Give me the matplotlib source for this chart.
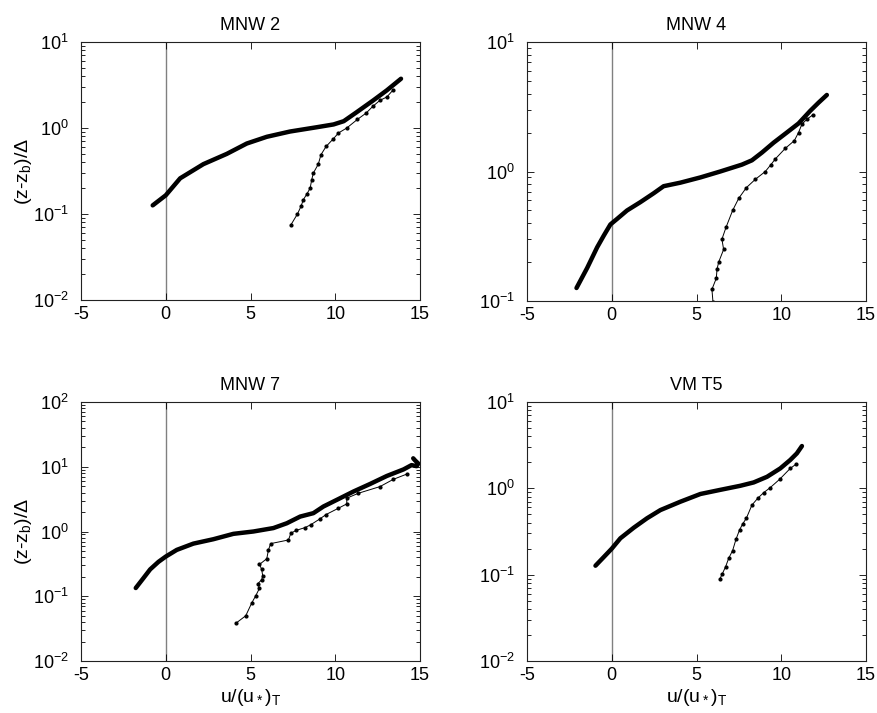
"""Four-panel log profiles of u/(u*)_T against (z-z_b)/Delta."""

import matplotlib
matplotlib.use("Agg")
import matplotlib.pyplot as plt
from matplotlib.ticker import LogLocator, NullFormatter

plt.rcParams["font.family"] = ["Liberation Sans", "DejaVu Sans"]
plt.rcParams["mathtext.default"] = "regular"
plt.rcParams["axes.unicode_minus"] = False

titles = ["MNW 2", "MNW 4", "MNW 7", "VM T5"]
ylims = [(1e-2, 1e1), (1e-1, 1e1), (1e-2, 1e2), (1e-2, 1e1)]

# thick curve (model / dense profile)
thick_u = [
    [-0.77, 0.0, 0.85, 2.22, 3.6, 4.78, 5.96, 7.33, 8.9, 9.9, 10.5, 11.27, 12.25, 13.04, 13.88],
    [-2.08, -1.45, -0.86, -0.47, -0.08, 0.31, 0.9, 1.69, 2.48, 3.06, 4.05, 5.23, 6.4, 7.68,
     8.27, 8.86, 9.55, 10.33, 11.02, 11.71, 12.2, 12.69],
    [-1.77, -1.32, -0.92, -0.43, 0.0, 0.65, 1.63, 2.81, 3.99, 5.17, 6.35, 7.14, 7.93, 8.71,
     9.3, 10.09, 11.07, 12.06, 13.04, 14.03, 14.5, 14.8, 14.9, 14.7, 14.6],
    [-0.96, -0.47, 0.0, 0.51, 1.3, 2.08, 2.87, 4.05, 5.23, 6.4, 7.58, 8.37, 9.16, 9.94,
     10.53, 10.92, 11.22],
]
thick_z = [
    [0.126, 0.165, 0.26, 0.38, 0.50, 0.66, 0.79, 0.91, 1.02, 1.1, 1.2, 1.53, 2.1, 2.74, 3.74],
    [0.126, 0.18, 0.26, 0.32, 0.39, 0.43, 0.50, 0.58, 0.68, 0.77, 0.82, 0.90, 1.0, 1.13,
     1.22, 1.40, 1.67, 2.0, 2.35, 2.94, 3.4, 3.9],
    [0.134, 0.19, 0.26, 0.34, 0.41, 0.52, 0.65, 0.76, 0.92, 1.0, 1.13, 1.34, 1.70, 1.92,
     2.43, 3.08, 4.14, 5.43, 7.2, 9.1, 10.6, 10.2, 11.2, 12.6, 13.5],
    [0.127, 0.16, 0.20, 0.264, 0.35, 0.45, 0.56, 0.70, 0.86, 0.96, 1.07, 1.17, 1.36, 1.70,
     2.13, 2.54, 3.09],
]

# thin curve with point markers (measurements)
thin_u = [
    [7.37, 7.77, 7.98, 8.12, 8.32, 8.52, 8.61, 8.71, 9.0, 9.16, 9.46, 9.89, 10.19, 10.68,
     11.31, 11.82, 12.21, 12.64, 13.04, 13.43],
    [5.97, 5.91, 6.17, 6.21, 6.31, 6.6, 6.5, 6.74, 7.13, 7.49, 7.94, 8.47, 9.06, 9.39,
     9.65, 10.24, 10.77, 11.02, 11.22, 11.51, 11.87],
    [4.15, 4.72, 5.07, 5.31, 5.53, 5.43, 5.66, 5.72, 5.66, 5.53, 5.96, 6.06, 6.19, 7.24,
     7.38, 7.69, 8.22, 8.55, 9.1, 9.46, 10.19, 10.68, 10.68, 11.37, 12.64, 13.43, 14.22],
    [6.37, 6.52, 6.72, 6.9, 7.13, 7.33, 7.54, 7.72, 7.94, 8.27, 8.62, 8.96, 9.35, 9.9,
     10.53, 10.88],
]
thin_z = [
    [0.074, 0.10, 0.123, 0.147, 0.17, 0.20, 0.25, 0.30, 0.38, 0.49, 0.61, 0.75, 0.875, 1.0,
     1.26, 1.49, 1.78, 2.1, 2.29, 2.79],
    [0.099, 0.123, 0.15, 0.176, 0.20, 0.25, 0.30, 0.37, 0.50, 0.62, 0.75, 0.87, 1.0, 1.13,
     1.25, 1.51, 1.73, 2.0, 2.32, 2.53, 2.74],
    [0.0385, 0.05, 0.0785, 0.102, 0.133, 0.156, 0.18, 0.207, 0.26, 0.31, 0.38, 0.52, 0.65,
     0.74, 0.94, 1.04, 1.15, 1.27, 1.57, 1.83, 2.29, 2.67, 3.27, 3.9, 4.94, 6.4, 7.7],
    [0.0885, 0.102, 0.124, 0.155, 0.19, 0.257, 0.33, 0.386, 0.45, 0.64, 0.77, 0.89, 1.02,
     1.27, 1.70, 1.91],
]


def main():
    fig = plt.figure(figsize=(8.77, 7.13), dpi=100)
    W, H = 877, 713
    boxes = [(81, 42, 420, 300), (527, 42, 866, 301),
             (81, 402, 420, 661), (527, 402, 866, 661)]

    for i, (x0, y0, x1, y1) in enumerate(boxes):
        ax = fig.add_axes([x0 / W, 1 - y1 / H, (x1 - x0) / W, (y1 - y0) / H])
        ax.axvline(0, color="#808080", lw=1.0, zorder=1)
        ax.plot(thick_u[i], thick_z[i], color="black", lw=3.2,
                solid_joinstyle="round", solid_capstyle="round", zorder=3)
        ax.plot(thin_u[i], thin_z[i], color="black", lw=0.7, marker="o",
                ms=2.0, zorder=2)
        ax.set_yscale("log")
        ax.set_xlim(-5, 15)
        ax.set_ylim(*ylims[i])
        ax.set_xticks([-5, 0, 5, 10, 15])
        ax.yaxis.set_major_locator(LogLocator(base=10, numticks=10))
        ax.yaxis.set_minor_locator(LogLocator(base=10, subs=range(2, 10), numticks=20))
        ax.yaxis.set_minor_formatter(NullFormatter())
        ax.tick_params(which="both", direction="in", top=True, right=True,
                       labelsize=13)
        ax.tick_params(axis="x", pad=4)
        ax.tick_params(axis="y", pad=9)
        ax.tick_params(which="major", length=5, width=0.6)
        ax.tick_params(which="minor", length=3, width=0.6)
        for s in ax.spines.values():
            s.set_linewidth(0.8)
            s.set_color("#222222")
        ax.set_title(titles[i], fontsize=13, pad=9)
        if i % 2 == 0:
            ax.set_ylabel(r"(z-z$_b$)/$\Delta$", fontsize=14)
            ax.yaxis.set_label_coords(-0.138, 0.5)
        if i >= 2:
            ax.set_xlabel(r"u/(u$_*$)$_T$", fontsize=14)
            ax.xaxis.set_label_coords(0.5, -0.1)

    fig.savefig("out.png", dpi=100)


if __name__ == "__main__":
    main()
